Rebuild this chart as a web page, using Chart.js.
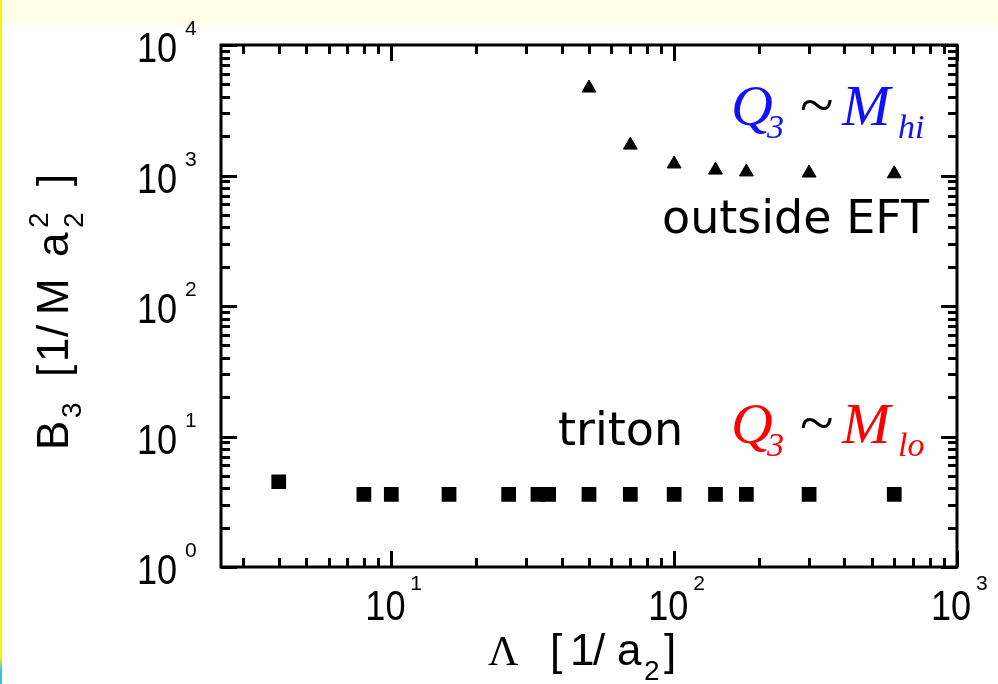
<!DOCTYPE html>
<html>
<head>
<meta charset="utf-8">
<script src="https://cdn.jsdelivr.net/npm/chart.js@4/dist/chart.umd.min.js"></script>
<style>
  body { margin: 0; background: #fff; }
  #wrap { position: relative; width: 998px; height: 684px; overflow: hidden; }
  #band { position: absolute; left: 0; top: 0; width: 998px; height: 25px; background: #fffee6; }
  #edge { position: absolute; left: 0; top: 0; width: 2px; height: 684px; background: linear-gradient(#f8f400 0%, #f8f400 96%, #30c8d8 98%); }
  #chartCanvas { position: absolute; left: 0; top: 0; }
</style>
</head>
<body>
<div id="wrap">
  <div id="band"></div>
  <div id="edge"></div>
  <canvas id="chartCanvas" width="998" height="684"></canvas>
</div>
<script>
// triton: Q3 ~ M_lo (squares)
const lambdaLo = [4, 8, 10, 16, 26, 33, 36, 50, 70, 100, 140, 180, 300, 600];
const b3Lo = [4.5, 3.6, 3.6, 3.6, 3.6, 3.6, 3.6, 3.6, 3.6, 3.6, 3.6, 3.6, 3.6, 3.6];
// outside EFT: Q3 ~ M_hi (triangles)
const lambdaHi = [50, 70, 100, 140, 180, 300, 600];
const b3Hi = [4680, 1710, 1225, 1100, 1065, 1045, 1030];

// axes
const xMin = 2.5, xMax = 1000;
const yMin = 1, yMax = 10000;
const xTickValues = [10, 100, 1000];
const xTickExp = ['1', '2', '3'];
const yTickValues = [1, 10, 100, 1000, 10000];
const yTickExp = ['0', '1', '2', '3', '4'];

function scaledText(ctx, text, x, y, sx) {
    ctx.save();
    ctx.translate(x, y);
    ctx.scale(sx, 1);
    ctx.fillText(text, 0, 0);
    ctx.restore();
}

// pieces of text at fixed offsets along a baseline
function drawPieces(ctx, pieces) {
    for (const p of pieces) {
        ctx.font = p.font;
        ctx.fillStyle = p.color || '#000';
        ctx.fillText(p.t, p.s, p.dy || 0);
    }
}

function tickLine(ctx, x1, y1, x2, y2) {
    ctx.beginPath();
    ctx.moveTo(x1, y1);
    ctx.lineTo(x2, y2);
    ctx.stroke();
}

function minorValues(min, max) {
    const out = [];
    for (let d = Math.floor(Math.log10(min)); d < Math.log10(max); d++) {
        for (let m = 2; m <= 9; m++) {
            const v = m * Math.pow(10, d);
            if (v > min && v < max) out.push(v);
        }
    }
    return out;
}

const framePlugin = {
    id: 'frame',
    afterDatasetsDraw(chart) {
        const ctx = chart.ctx;
        const a = chart.chartArea;
        const xs = chart.scales.x, ys = chart.scales.y;
        ctx.save();
        ctx.strokeStyle = '#000';
        ctx.lineWidth = 3;
        ctx.strokeRect(a.left, a.top, a.right - a.left, a.bottom - a.top);

        // ticks, pointing inward on all four sides
        for (const v of minorValues(xMin, xMax)) {
            const px = Math.round(xs.getPixelForValue(v)) + 0.5;
            tickLine(ctx, px, a.bottom, px, a.bottom - 9);
            tickLine(ctx, px, a.top, px, a.top + 9);
        }
        for (const v of xTickValues) {
            const px = Math.round(xs.getPixelForValue(v)) + 0.5;
            tickLine(ctx, px, a.bottom, px, a.bottom - 16);
            tickLine(ctx, px, a.top, px, a.top + 16);
        }
        for (const v of minorValues(yMin, yMax)) {
            const py = Math.round(ys.getPixelForValue(v)) + 0.5;
            tickLine(ctx, a.left, py, a.left + 9, py);
            tickLine(ctx, a.right, py, a.right - 9, py);
        }
        for (const v of yTickValues) {
            const py = Math.round(ys.getPixelForValue(v)) + 0.5;
            tickLine(ctx, a.left, py, a.left + 16, py);
            tickLine(ctx, a.right, py, a.right - 16, py);
        }

        // tick labels 10^n
        ctx.fillStyle = '#000';
        ctx.textBaseline = 'alphabetic';
        ctx.textAlign = 'left';
        xTickValues.forEach((v, i) => {
            const px = xs.getPixelForValue(v);
            ctx.font = '42px "Liberation Sans"';
            scaledText(ctx, '10', px - 26, a.bottom + 53, 0.86);
            ctx.font = '21px "Liberation Sans"';
            ctx.fillText(xTickExp[i], px + 19, a.bottom + 23);
        });
        yTickValues.forEach((v, i) => {
            const py = ys.getPixelForValue(v);
            ctx.font = '42px "Liberation Sans"';
            scaledText(ctx, '10', a.left - 84, py + 17, 0.86);
            ctx.font = '21px "Liberation Sans"';
            ctx.fillText(yTickExp[i], a.left - 36, py - 10);
        });

        // axis titles
        const F = '44px "Liberation Sans"';
        const S = '28px "Liberation Sans"';
        ctx.save();
        ctx.translate(0, 665);
        drawPieces(ctx, [
            { t: 'Λ', s: 488, font: '42px "Liberation Serif"' },
            { t: '[', s: 550, font: F },
            { t: '1', s: 570, font: F },
            { t: '/', s: 593, font: F },
            { t: 'a', s: 617, font: F },
            { t: '2', s: 644, dy: 15, font: S },
            { t: ']', s: 664, font: F }
        ]);
        ctx.restore();

        ctx.save();
        ctx.translate(68, 450);
        ctx.rotate(-Math.PI / 2);
        drawPieces(ctx, [
            { t: 'B', s: 0, font: F },
            { t: '3', s: 32, dy: 13, font: S },
            { t: '[', s: 73, font: F },
            { t: '1', s: 88, font: F },
            { t: '/', s: 113, font: F },
            { t: 'M', s: 135, font: F },
            { t: 'a', s: 193, font: F },
            { t: '2', s: 222, dy: 15, font: S },
            { t: '2', s: 222, dy: -20, font: S },
            { t: ']', s: 264, font: F }
        ]);
        ctx.restore();

        // annotations
        const TI = 'italic 58px "Liberation Serif"';
        const TS = 'italic 34px "Liberation Serif"';
        const TL = '62px "Liberation Serif"';
        const blue = '#1010ff', red = '#ff0000';
        ctx.save();
        ctx.translate(0, 125);
        drawPieces(ctx, [
            { t: 'Q', s: 731, font: TI, color: blue },
            { t: '3', s: 767, dy: 13, font: TS, color: blue },
            { t: '~', s: 800, dy: 0, font: TL },
            { t: 'M', s: 842, font: TI, color: blue },
            { t: 'hi', s: 898, dy: 13, font: TS, color: blue }
        ]);
        ctx.restore();
        ctx.save();
        ctx.translate(0, 443);
        drawPieces(ctx, [
            { t: 'Q', s: 731, font: TI, color: red },
            { t: '3', s: 767, dy: 13, font: TS, color: red },
            { t: '~', s: 800, dy: 0, font: TL },
            { t: 'M', s: 842, font: TI, color: red },
            { t: 'lo', s: 898, dy: 13, font: TS, color: red }
        ]);
        ctx.restore();

        ctx.font = '46px "DejaVu Sans"';
        ctx.fillStyle = '#000';
        ctx.fillText('outside EFT', 662, 233);
        ctx.fillText('triton', 558, 445);

        ctx.restore();
    }
};

const ctx = document.getElementById('chartCanvas').getContext('2d');

const chart = new Chart(ctx, {
    type: 'scatter',
    data: {
        datasets: [
            {
                label: 'triton',
                data: lambdaLo.map((v, i) => ({ x: v, y: b3Lo[i] })),
                pointStyle: 'rect',
                pointRadius: 9,
                borderWidth: 2,
                borderColor: '#000',
                backgroundColor: '#000'
            },
            {
                label: 'outside EFT',
                data: lambdaHi.map((v, i) => ({ x: v, y: b3Hi[i] })),
                pointStyle: 'triangle',
                pointRadius: 8,
                borderWidth: 1,
                borderColor: '#000',
                backgroundColor: '#000'
            }
        ]
    },
    options: {
        responsive: false,
        animation: false,
        events: [],
        layout: { padding: { left: 221, top: 45, right: 41, bottom: 117 } },
        plugins: { legend: { display: false }, tooltip: { enabled: false } },
        scales: {
            x: { type: 'logarithmic', min: xMin, max: xMax, display: false },
            y: { type: 'logarithmic', min: yMin, max: yMax, display: false }
        }
    },
    plugins: [framePlugin]
});
</script>
</body>
</html>
